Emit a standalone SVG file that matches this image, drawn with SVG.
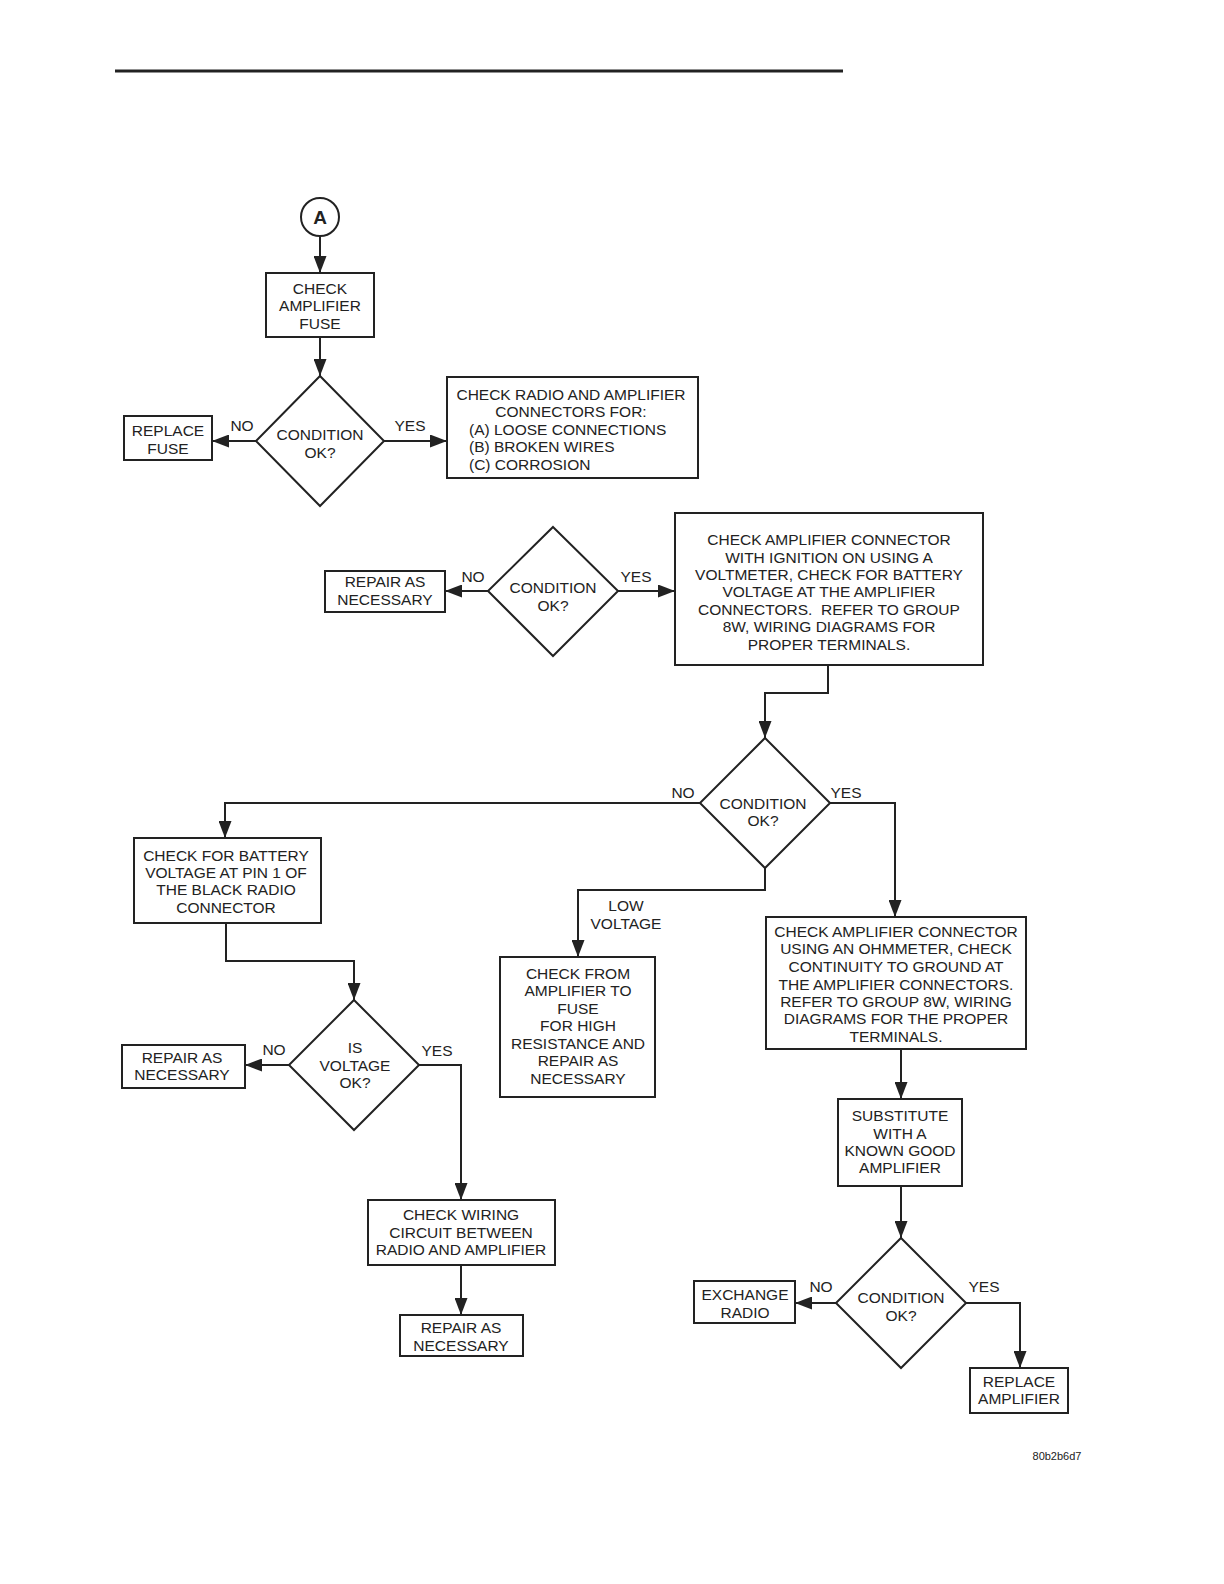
<svg xmlns="http://www.w3.org/2000/svg" width="1224" height="1584" viewBox="0 0 1224 1584">
<style>
.b{fill:#fff;stroke:#222;stroke-width:2}
.c{fill:none;stroke:#222;stroke-width:2}
text{font-family:"Liberation Sans",Arial,sans-serif;font-size:15.5px;fill:#222;text-anchor:middle}
.l{text-anchor:start}
</style>
<defs>
<marker id="ah" markerUnits="userSpaceOnUse" markerWidth="18" markerHeight="13" refX="17" refY="6.5" orient="auto">
<path d="M0,0 L17,6.5 L0,13 z" fill="#222"/>
</marker>
</defs>
<rect width="1224" height="1584" fill="#fff"/>
<line x1="115" y1="71" x2="843" y2="71" stroke="#222" stroke-width="3"/>

<g id="connectors" class="c">
<path class="c" d="M320,236 L320,273" marker-end="url(#ah)"/>
<path class="c" d="M320,337 L320,376" marker-end="url(#ah)"/>
<path class="c" d="M256,441 L212,441" marker-end="url(#ah)"/>
<path class="c" d="M384,441 L447,441" marker-end="url(#ah)"/>
<path class="c" d="M488,591 L445,591" marker-end="url(#ah)"/>
<path class="c" d="M618,591 L675,591" marker-end="url(#ah)"/>
<path class="c" d="M828,665 L828,693 L765,693 L765,738" marker-end="url(#ah)"/>
<path class="c" d="M700,803 L225,803 L225,838" marker-end="url(#ah)"/>
<path class="c" d="M830,803 L895,803 L895,917" marker-end="url(#ah)"/>
<path class="c" d="M765,868 L765,890 L578,890 L578,957" marker-end="url(#ah)"/>
<path class="c" d="M226,923 L226,961 L354,961 L354,1000" marker-end="url(#ah)"/>
<path class="c" d="M289,1065 L245,1065" marker-end="url(#ah)"/>
<path class="c" d="M419,1065 L461,1065 L461,1200" marker-end="url(#ah)"/>
<path class="c" d="M461,1265 L461,1315" marker-end="url(#ah)"/>
<path class="c" d="M901,1049 L901,1099" marker-end="url(#ah)"/>
<path class="c" d="M901,1186 L901,1238" marker-end="url(#ah)"/>
<path class="c" d="M836,1303 L795,1303" marker-end="url(#ah)"/>
<path class="c" d="M966,1303 L1020,1303 L1020,1368" marker-end="url(#ah)"/>
</g>

<g id="edge-labels">
<text x="242" y="431">NO</text>
<text x="410" y="431">YES</text>
<text x="473" y="582">NO</text>
<text x="636" y="582">YES</text>
<text x="683" y="798">NO</text>
<text x="846" y="798">YES</text>
<text x="626" y="911">LOW</text>
<text x="626" y="929">VOLTAGE</text>
<text x="274" y="1055">NO</text>
<text x="437" y="1056">YES</text>
<text x="821" y="1292">NO</text>
<text x="984" y="1292">YES</text>
</g>

<g id="start-A">
<circle cx="320" cy="217" r="19" class="b"/>
<text x="320" y="224" style="font-size:19px;font-weight:bold">A</text>
</g>

<g id="check-amp-fuse">
<rect x="266" y="273" width="108" height="64" class="b"/>
<text x="320" y="294">CHECK</text>
<text x="320" y="311">AMPLIFIER</text>
<text x="320" y="329">FUSE</text>
</g>

<g id="cond1">
<polygon points="320,376 384,441 320,506 256,441" class="b"/>
<text x="320" y="440">CONDITION</text>
<text x="320" y="458">OK?</text>
</g>

<g id="replace-fuse">
<rect x="124" y="416" width="88" height="44" class="b"/>
<text x="168" y="436">REPLACE</text>
<text x="168" y="454">FUSE</text>
</g>

<g id="check-radio-amp-connectors">
<rect x="447" y="377" width="251" height="101" class="b"/>
<text x="571" y="400">CHECK RADIO AND AMPLIFIER</text>
<text x="571" y="417">CONNECTORS FOR:</text>
<text x="469" y="435" class="l">(A) LOOSE CONNECTIONS</text>
<text x="469" y="452" class="l">(B) BROKEN WIRES</text>
<text x="469" y="470" class="l">(C) CORROSION</text>
</g>

<g id="cond2">
<polygon points="553,527 618,591 553,656 488,591" class="b"/>
<text x="553" y="593">CONDITION</text>
<text x="553" y="611">OK?</text>
</g>

<g id="repair1">
<rect x="325" y="571" width="120" height="41" class="b"/>
<text x="385" y="587">REPAIR AS</text>
<text x="385" y="605">NECESSARY</text>
</g>

<g id="check-amp-voltmeter">
<rect x="675" y="513" width="308" height="152" class="b"/>
<text x="829" y="545">CHECK AMPLIFIER CONNECTOR</text>
<text x="829" y="563">WITH IGNITION ON USING A</text>
<text x="829" y="580">VOLTMETER, CHECK FOR BATTERY</text>
<text x="829" y="597">VOLTAGE AT THE AMPLIFIER</text>
<text x="829" y="615" xml:space="preserve">CONNECTORS.  REFER TO GROUP</text>
<text x="829" y="632">8W, WIRING DIAGRAMS FOR</text>
<text x="829" y="650">PROPER TERMINALS.</text>
</g>

<g id="cond3">
<polygon points="765,738 830,803 765,868 700,803" class="b"/>
<text x="763" y="809">CONDITION</text>
<text x="763" y="826">OK?</text>
</g>

<g id="check-battery-pin1">
<rect x="134" y="838" width="187" height="85" class="b"/>
<text x="226" y="861">CHECK FOR BATTERY</text>
<text x="226" y="878">VOLTAGE AT PIN 1 OF</text>
<text x="226" y="895">THE BLACK RADIO</text>
<text x="226" y="913">CONNECTOR</text>
</g>

<g id="check-from-amp-to-fuse">
<rect x="500" y="957" width="155" height="140" class="b"/>
<text x="578" y="979">CHECK FROM</text>
<text x="578" y="996">AMPLIFIER TO</text>
<text x="578" y="1014">FUSE</text>
<text x="578" y="1031">FOR HIGH</text>
<text x="578" y="1049">RESISTANCE AND</text>
<text x="578" y="1066">REPAIR AS</text>
<text x="578" y="1084">NECESSARY</text>
</g>

<g id="check-amp-ohmmeter">
<rect x="766" y="917" width="260" height="132" class="b"/>
<text x="896" y="937">CHECK AMPLIFIER CONNECTOR</text>
<text x="896" y="954">USING AN OHMMETER, CHECK</text>
<text x="896" y="972">CONTINUITY TO GROUND AT</text>
<text x="896" y="990">THE AMPLIFIER CONNECTORS.</text>
<text x="896" y="1007">REFER TO GROUP 8W, WIRING</text>
<text x="896" y="1024">DIAGRAMS FOR THE PROPER</text>
<text x="896" y="1042">TERMINALS.</text>
</g>

<g id="cond-voltage">
<polygon points="354,1000 419,1065 354,1130 289,1065" class="b"/>
<text x="355" y="1053">IS</text>
<text x="355" y="1071">VOLTAGE</text>
<text x="355" y="1088">OK?</text>
</g>

<g id="repair2">
<rect x="122" y="1045" width="123" height="43" class="b"/>
<text x="182" y="1063">REPAIR AS</text>
<text x="182" y="1080">NECESSARY</text>
</g>

<g id="check-wiring">
<rect x="368" y="1200" width="187" height="65" class="b"/>
<text x="461" y="1220">CHECK WIRING</text>
<text x="461" y="1238">CIRCUIT BETWEEN</text>
<text x="461" y="1255">RADIO AND AMPLIFIER</text>
</g>

<g id="repair3">
<rect x="400" y="1315" width="123" height="41" class="b"/>
<text x="461" y="1333">REPAIR AS</text>
<text x="461" y="1351">NECESSARY</text>
</g>

<g id="substitute">
<rect x="838" y="1099" width="124" height="87" class="b"/>
<text x="900" y="1121">SUBSTITUTE</text>
<text x="900" y="1139">WITH A</text>
<text x="900" y="1156">KNOWN GOOD</text>
<text x="900" y="1173">AMPLIFIER</text>
</g>

<g id="cond5">
<polygon points="901,1238 966,1303 901,1368 836,1303" class="b"/>
<text x="901" y="1303">CONDITION</text>
<text x="901" y="1321">OK?</text>
</g>

<g id="exchange-radio">
<rect x="694" y="1281" width="101" height="42" class="b"/>
<text x="745" y="1300">EXCHANGE</text>
<text x="745" y="1318">RADIO</text>
</g>

<g id="replace-amp">
<rect x="970" y="1368" width="98" height="45" class="b"/>
<text x="1019" y="1387">REPLACE</text>
<text x="1019" y="1404">AMPLIFIER</text>
</g>

<text x="1057" y="1460" style="font-size:11px">80b2b6d7</text>
</svg>
